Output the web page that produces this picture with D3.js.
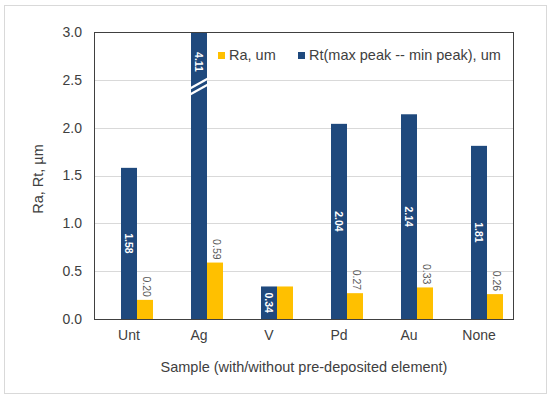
<!DOCTYPE html>
<html>
<head>
<meta charset="utf-8">
<script src="https://cdn.jsdelivr.net/npm/d3@7"></script>
<style>
  body { margin: 0; background: #fff; }
  text { font-family: "Liberation Sans", Arial, sans-serif; }
</style>
</head>
<body>
<svg width="550" height="398"></svg>
<script>
// data
var categories = ["Unt", "Ag", "V", "Pd", "Au", "None"];
var raValues = [0.20, 0.59, 0.34, 0.27, 0.33, 0.26];
var rtValues = [1.58, 4.11, 0.34, 2.04, 2.14, 1.81];
var raLabels = ["0.20", "0.59", "", "0.27", "0.33", "0.26"];
var rtLabels = ["1.58", "4.11", "0.34", "2.04", "2.14", "1.81"];
var yTicks = [0, 0.5, 1.0, 1.5, 2.0, 2.5, 3.0];
// third (empty) series slot, as in the source chart
var seriesKeys = ["blank", "Rt", "Ra"];

var blue = "#1f497d", gold = "#ffc000";

var svg = d3.select("svg"),
    width = +svg.attr("width"),
    height = +svg.attr("height");

var plotLeft = 94, plotRight = 514, plotTop = 32, plotBottom = 319;
var yMax = 3;

// outer frame
svg.append("rect")
    .attr("x", 4.5).attr("y", 5.5)
    .attr("width", 542).attr("height", 388)
    .attr("fill", "#fff")
    .attr("stroke", "#d9d9d9");

var x = d3.scaleBand()
    .domain(categories)
    .range([plotLeft, plotRight])
    .paddingInner(22 / 70)
    .paddingOuter(11 / 70);

var xs = d3.scaleBand()
    .domain(seriesKeys)
    .range([0, x.bandwidth()]);

var y = d3.scaleLinear()
    .domain([0, yMax])
    .range([plotBottom, plotTop]);

// gridlines
svg.append("g").selectAll("line")
    .data(yTicks.slice(1, -1))
    .enter().append("line")
    .attr("x1", plotLeft).attr("x2", plotRight)
    .attr("y1", function (d) { return Math.round(y(d)) + 0.5; })
    .attr("y2", function (d) { return Math.round(y(d)) + 0.5; })
    .attr("stroke", "#d9d9d9");

// y tick labels
var yAxis = svg.append("g")
    .attr("transform", "translate(" + plotLeft + ",0)")
    .call(d3.axisLeft(y).tickValues(yTicks).tickFormat(d3.format(".1f")).tickSize(0).tickPadding(12));
yAxis.select(".domain").remove();
yAxis.selectAll("text")
    .attr("font-size", "14px")
    .attr("fill", "#404040")
    .style("font-family", "Liberation Sans, Arial, sans-serif");

// x tick labels
var xAxis = svg.append("g")
    .attr("transform", "translate(0," + plotBottom + ")")
    .call(d3.axisBottom(x).tickSize(0).tickPadding(11));
xAxis.select(".domain").remove();
xAxis.selectAll("text")
    .attr("font-size", "14px")
    .attr("fill", "#404040")
    .style("font-family", "Liberation Sans, Arial, sans-serif");

var rows = categories.map(function (c, i) {
    return { cat: c, ra: raValues[i], rt: rtValues[i], raLabel: raLabels[i], rtLabel: rtLabels[i] };
});

// Rt bars
svg.append("g").selectAll("rect")
    .data(rows)
    .enter().append("rect")
    .attr("x", function (d) { return x(d.cat) + xs("Rt"); })
    .attr("width", xs.bandwidth())
    .attr("y", function (d) { return y(Math.min(d.rt, yMax)); })
    .attr("height", function (d) { return plotBottom - y(Math.min(d.rt, yMax)); })
    .attr("fill", blue);

// Ra bars
svg.append("g").selectAll("rect")
    .data(rows)
    .enter().append("rect")
    .attr("x", function (d) { return x(d.cat) + xs("Ra"); })
    .attr("width", xs.bandwidth())
    .attr("y", function (d) { return y(d.ra); })
    .attr("height", function (d) { return plotBottom - y(d.ra); })
    .attr("fill", gold);

// axis break on the clipped bar
var broken = rows.filter(function (d) { return d.rt > yMax; });
broken.forEach(function (d) {
    var x0 = x(d.cat) + xs("Rt") - 1, x1 = x0 + xs.bandwidth() + 2;
    var yc = y(2.43);
    [-3, 3].forEach(function (off) {
        svg.append("line")
            .attr("x1", x0).attr("y1", yc + off + 5)
            .attr("x2", x1).attr("y2", yc + off - 5)
            .attr("stroke", "#fff")
            .attr("stroke-width", 2.2);
    });
});

// Rt labels (white, bold, rotated, centred in bar)
svg.append("g").selectAll("text")
    .data(rows)
    .enter().append("text")
    .attr("transform", function (d) {
        var cx = x(d.cat) + xs("Rt") + xs.bandwidth() / 2;
        var cy = d.rt > yMax ? y(yMax) + 30 : (y(d.rt) + plotBottom) / 2;
        return "translate(" + cx + "," + cy + ") rotate(90)";
    })
    .attr("text-anchor", "middle")
    .attr("dominant-baseline", "central")
    .attr("font-size", "10.5px")
    .attr("font-weight", "bold")
    .attr("fill", "#fff")
    .text(function (d) { return d.rtLabel; });

// Ra labels (grey, rotated, above bar)
svg.append("g").selectAll("text")
    .data(rows.filter(function (d) { return d.raLabel; }))
    .enter().append("text")
    .attr("transform", function (d) {
        var cx = x(d.cat) + xs("Ra") + xs.bandwidth() / 2 + 2;
        return "translate(" + cx + "," + (y(d.ra) - 3) + ") rotate(90)";
    })
    .attr("text-anchor", "end")
    .attr("dominant-baseline", "central")
    .attr("font-size", "10.5px")
    .attr("fill", "#595959")
    .text(function (d) { return d.raLabel; });

// plot frame
svg.append("rect")
    .attr("x", plotLeft + 0.5).attr("y", plotTop + 0.5)
    .attr("width", plotRight - plotLeft - 1).attr("height", plotBottom - plotTop)
    .attr("fill", "none")
    .attr("stroke", "#404040");

// legend
var legendItems = [
    { key: "Ra, um", color: gold, x: 218 },
    { key: "Rt(max peak -- min peak), um", color: blue, x: 298 }
];
var lg = svg.append("g").selectAll("g")
    .data(legendItems)
    .enter().append("g");
lg.append("rect")
    .attr("x", function (d) { return d.x; })
    .attr("y", 52)
    .attr("width", 7).attr("height", 7)
    .attr("fill", function (d) { return d.color; });
lg.append("text")
    .attr("x", function (d) { return d.x + 11; })
    .attr("y", 60)
    .attr("font-size", "14.5px")
    .attr("fill", "#404040")
    .text(function (d) { return d.key; });

// axis titles
svg.append("text")
    .attr("x", (plotLeft + plotRight) / 2)
    .attr("y", 372)
    .attr("text-anchor", "middle")
    .attr("font-size", "14.5px")
    .attr("fill", "#404040")
    .text("Sample (with/without pre-deposited element)");

svg.append("text")
    .attr("transform", "translate(43,179) rotate(-90)")
    .attr("text-anchor", "middle")
    .attr("font-size", "14.5px")
    .attr("fill", "#404040")
    .text("Ra, Rt, µm");
</script>
</body>
</html>
